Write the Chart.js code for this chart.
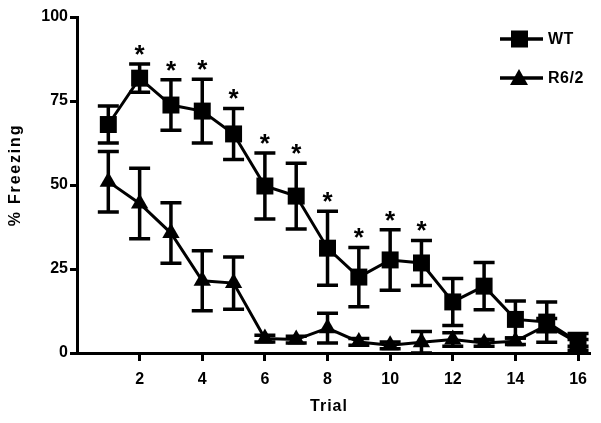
<!DOCTYPE html>
<html>
<head>
<meta charset="utf-8">
<script src="https://cdn.jsdelivr.net/npm/chart.js@4.4.0/dist/chart.umd.min.js"></script>
<style>
  html, body { margin: 0; padding: 0; background: #fff; }
  #wrap { width: 601px; height: 423px; }
</style>
</head>
<body>
<div id="wrap"><canvas id="freezing"></canvas></div>
<script>
var trials = [1, 2, 3, 4, 5, 6, 7, 8, 9, 10, 11, 12, 13, 14, 15, 16];
var wtMean = [68, 81.8, 73.8, 72, 65.2, 49.7, 46.7, 31.2, 22.6, 27.7, 26.8, 15.2, 19.9, 10, 9.2, 3.3];
var wtSem  = [5.5, 4.2, 7.5, 9.5, 7.6, 9.8, 9.8, 11, 8.8, 9, 6.7, 7, 7, 5.5, 6, 2.5];
var r62Mean = [51, 44.5, 35.7, 21.5, 20.8, 4.3, 4, 7.4, 3.3, 2.3, 3.2, 4, 3, 3.5, 8.3, 3];
var r62Sem  = [9, 10.5, 9, 8.9, 7.8, 1, 1, 4.4, 1, 1, 3.2, 2, 1, 1, 2, 1];
var starTrials = [2, 3, 4, 5, 6, 7, 8, 9, 10, 11];
var xTicks = [2, 4, 6, 8, 10, 12, 14, 16];
var yTicks = [0, 25, 50, 75, 100];

function pts(means) {
  return trials.map(function (t, i) { return { x: t, y: means[i] }; });
}

var FONT = '"Liberation Sans", Arial, sans-serif';

var extras = {
  id: 'extras',
  afterDatasetsDraw: function (chart) {
    var ctx = chart.ctx;
    var xs = chart.scales.x, ys = chart.scales.y;
    ctx.save();
    ctx.strokeStyle = '#000';
    ctx.fillStyle = '#000';
    ctx.lineWidth = 3.5;
    // error bars (SEM)
    chart.data.datasets.forEach(function (ds) {
      ds.sem.forEach(function (s, i) {
        var x = xs.getPixelForValue(trials[i]);
        var m = ds.mean[i];
        var top = ys.getPixelForValue(m + s);
        var bot = ys.getPixelForValue(Math.max(m - s, 0));
        ctx.beginPath();
        ctx.moveTo(x, top); ctx.lineTo(x, bot);
        ctx.moveTo(x - 10.5, top); ctx.lineTo(x + 10.5, top);
        ctx.moveTo(x - 10.5, bot); ctx.lineTo(x + 10.5, bot);
        ctx.stroke();
      });
    });
    // significance stars above WT bars
    ctx.font = 'bold 26px ' + FONT;
    ctx.textAlign = 'center';
    ctx.textBaseline = 'alphabetic';
    starTrials.forEach(function (t) {
      var i = trials.indexOf(t);
      var x = xs.getPixelForValue(t);
      var y = ys.getPixelForValue(wtMean[i] + wtSem[i]) - 1;
      ctx.fillText('*', x, y);
    });
    // legend
    var items = [{ label: 'WT', style: 'rect', y: 39 }, { label: 'R6/2', style: 'triangle', y: 78 }];
    ctx.font = 'bold 16px ' + FONT;
    ctx.textAlign = 'left';
    ctx.textBaseline = 'middle';
    ctx.letterSpacing = '0.5px';
    items.forEach(function (it) {
      ctx.beginPath();
      ctx.moveTo(500, it.y); ctx.lineTo(543, it.y);
      ctx.stroke();
      if (it.style === 'rect') {
        ctx.fillRect(511, it.y - 8.5, 17, 17);
      } else {
        ctx.beginPath();
        ctx.moveTo(519, it.y - 9); ctx.lineTo(528, it.y + 7); ctx.lineTo(510, it.y + 7);
        ctx.closePath(); ctx.fill();
      }
      ctx.fillText(it.label, 548, it.y + 1);
    });
    // axis titles
    ctx.font = 'bold 16px ' + FONT;
    ctx.textAlign = 'center';
    ctx.letterSpacing = '1px';
    ctx.fillText('Trial', 329, 407);
    ctx.translate(16, 175);
    ctx.rotate(-Math.PI / 2);
    ctx.letterSpacing = '1.8px';
    ctx.fillText('% Freezing', 0, 0);
    ctx.restore();
  }
};

var tickFont = { family: 'Liberation Sans', size: 16, weight: 'bold' };

var ctx = document.getElementById('freezing');
var chart = new Chart(ctx, {
  type: 'line',
  data: {
    datasets: [{
      label: 'WT',
      data: pts(wtMean),
      mean: wtMean,
      sem: wtSem,
      borderColor: '#000',
      backgroundColor: '#000',
      borderWidth: 3,
      pointStyle: 'rect',
      pointRadius: 12,
      pointBorderWidth: 0,
      pointHoverRadius: 12,
      clip: false
    }, {
      label: 'R6/2',
      data: pts(r62Mean),
      mean: r62Mean,
      sem: r62Sem,
      borderColor: '#000',
      backgroundColor: '#000',
      borderWidth: 3,
      pointStyle: 'triangle',
      pointRadius: 10,
      pointBorderWidth: 0,
      pointHoverRadius: 10,
      clip: false
    }]
  },
  options: {
    responsive: true,
    maintainAspectRatio: false,
    animation: false,
    layout: { padding: { top: 17, right: 11, left: 0, bottom: 0 } },
    plugins: { legend: { display: false }, tooltip: { enabled: false } },
    scales: {
      x: {
        type: 'linear',
        min: 0,
        max: 16.35,
        afterBuildTicks: function (scale) {
          scale.ticks = xTicks.map(function (v) { return { value: v }; });
        },
        afterFit: function (scale) { scale.height = 70; },
        ticks: { color: '#000', font: tickFont, padding: 9, maxRotation: 0 },
        grid: { drawOnChartArea: false, drawTicks: true, tickLength: 8, color: '#000', lineWidth: 3 },
        border: { color: '#000', width: 3 }
      },
      y: {
        min: 0,
        max: 100,
        afterBuildTicks: function (scale) {
          scale.ticks = yTicks.map(function (v) { return { value: v }; });
        },
        afterFit: function (scale) { scale.width = 77; },
        ticks: { color: '#000', font: tickFont, padding: 2 },
        grid: { drawOnChartArea: false, drawTicks: true, tickLength: 7, color: '#000', lineWidth: 3 },
        border: { color: '#000', width: 3 }
      }
    }
  },
  plugins: [extras]
});
</script>
</body>
</html>
